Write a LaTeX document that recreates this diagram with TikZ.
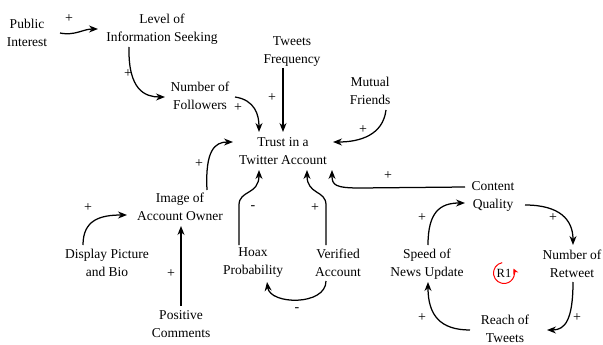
\documentclass[tikz,border=0pt]{standalone}
\usepackage{fontspec}
\setmainfont{Liberation Serif}
\usetikzlibrary{arrows.meta,calc}
\begin{document}
\begin{tikzpicture}[x=1pt,y=-1pt,
  var/.style={align=center,inner sep=0pt,font=\fontsize{13.5}{18}\selectfont},
  pol/.style={inner sep=0pt,font=\fontsize{14}{14}\selectfont},
  link/.style={line width=1.25pt,-{Stealth[length=9pt,width=7pt]}},
  loopmark/.style={red,line width=1pt,-{Stealth[length=5.5pt,width=5.5pt]}}]
\useasboundingbox (0,0) rectangle (603,345);
% variables
\node[var] (pi)  at (27,33)  {Public\\Interest};
\node[var] (lis) at (162,29) {Level of\\Information Seeking};
\node[var] (nf)  at (200,96) {Number of\\Followers};
\node[var] (tf)  at (292,52) {Tweets\\Frequency};
\node[var] (mf)  at (370,91) {Mutual\\Friends};
\node[var] (tr)  at (283,151) {Trust in a\\Twitter Account};
\node[var] (img) at (180,207) {Image of\\Account Owner};
\node[var] (dpb) at (107,263) {Display Picture\\and Bio};
\node[var] (pc)  at (181,324) {Positive\\Comments};
\node[var] (hp)  at (253,263) {Hoax\\Probability};
\node[var] (va)  at (338,263) {Verified\\Account};
\node[var] (cq)  at (493,196) {Content\\Quality};
\node[var] (sp)  at (427,264) {Speed of\\News Update};
\node[var] (nr)  at (572,264) {Number of\\Retweet};
\node[var] (rt)  at (505,329) {Reach of\\Tweets};
\node[inner sep=0pt,font=\fontsize{12.5}{14}\selectfont] (r1) at (504,273) {R1};
% links
\draw[link] ([shift={(33,0)}]pi.center) .. controls +(15,3) and +(-15,0) .. ([shift={(-64,0)}]lis.center);
\draw[link] ([shift={(-33,18)}]lis.center) .. controls +(-1,43) and +(-20,0) .. ([shift={(-35,1)}]nf.center);
\draw[link] ([shift={(35,1)}]nf.center) .. controls +(20,3) and +(0,-17) .. ([shift={(-24,-19)}]tr.center);
\draw[link] ([shift={(-9,16)}]tf.center) -- ([shift={(0,-19)}]tr.center);
\draw[link] ([shift={(16,19)}]mf.center) .. controls +(-3,25) and +(27,0) .. ([shift={(50,-9)}]tr.center);
\draw[link] ([shift={(27,-17)}]img.center) .. controls +(-2,-40) and +(-18,0) .. ([shift={(-50,-9)}]tr.center);
\draw[link] ([shift={(-24,-18)}]dpb.center) .. controls +(0,-25) and +(-27,0) .. ([shift={(-53,8)}]img.center);
\draw[link] ([shift={(0,-18)}]pc.center) -- ([shift={(1,19)}]img.center);
\draw[link] ([shift={(-14,-18)}]hp.center) -- ++(0,-40) .. controls +(0,-15) and +(0,25) .. ([shift={(-24,19)}]tr.center);
\draw[link] ([shift={(-12,-18)}]va.center) -- ++(0,-40) .. controls +(0,-15) and +(0,25) .. ([shift={(24,19)}]tr.center);
\draw[link] ([shift={(-28,-9)}]cq.center) -- ++(-105,1) .. controls +(-25,0) and +(0,15) .. ([shift={(49,19)}]tr.center);
\draw[link] ([shift={(-12,18)}]va.center) .. controls +(0,25) and +(3,23) .. ([shift={(14,19)}]hp.center);
\draw[link] ([shift={(1,-19)}]sp.center) .. controls +(0,-33) and +(-25,0) .. ([shift={(-28,7)}]cq.center);
\draw[link] ([shift={(32,9)}]cq.center) .. controls +(35,0) and +(0,-25) .. ([shift={(1,-19)}]nr.center);
\draw[link] ([shift={(1,18)}]nr.center) .. controls +(0,38) and +(18,0) .. ([shift={(42,1)}]rt.center);
\draw[link] ([shift={(-35,1)}]rt.center) .. controls +(-30,0) and +(0,33) .. ([shift={(1,18)}]sp.center);
% polarities
\node[pol] (p1)  at (69,19)  {+};
\node[pol] (p2)  at (128,74) {+};
\node[pol] (p3)  at (238,108) {+};
\node[pol] (p4)  at (272,98) {+};
\node[pol] (p5)  at (363,130) {+};
\node[pol] (p6)  at (199,164) {+};
\node[pol] (p7)  at (88,208) {+};
\node[pol] (p8)  at (171,274) {+};
\node[pol] (p9)  at (253,208) {-};
\node[pol] (p10) at (315,208) {+};
\node[pol] (p11) at (388,176) {+};
\node[pol] (p12) at (297,310) {-};
\node[pol] (p13) at (422,218) {+};
\node[pol] (p14) at (553,218) {+};
\node[pol] (p15) at (577,318) {+};
\node[pol] (p16) at (422,318) {+};
% loop marker
\begin{scope}[shift={(r1.center)},x=1pt,y=1pt]
\draw[loopmark] (100:10.5) arc (100:385:10.5);
\end{scope}
\end{tikzpicture}
\end{document}
